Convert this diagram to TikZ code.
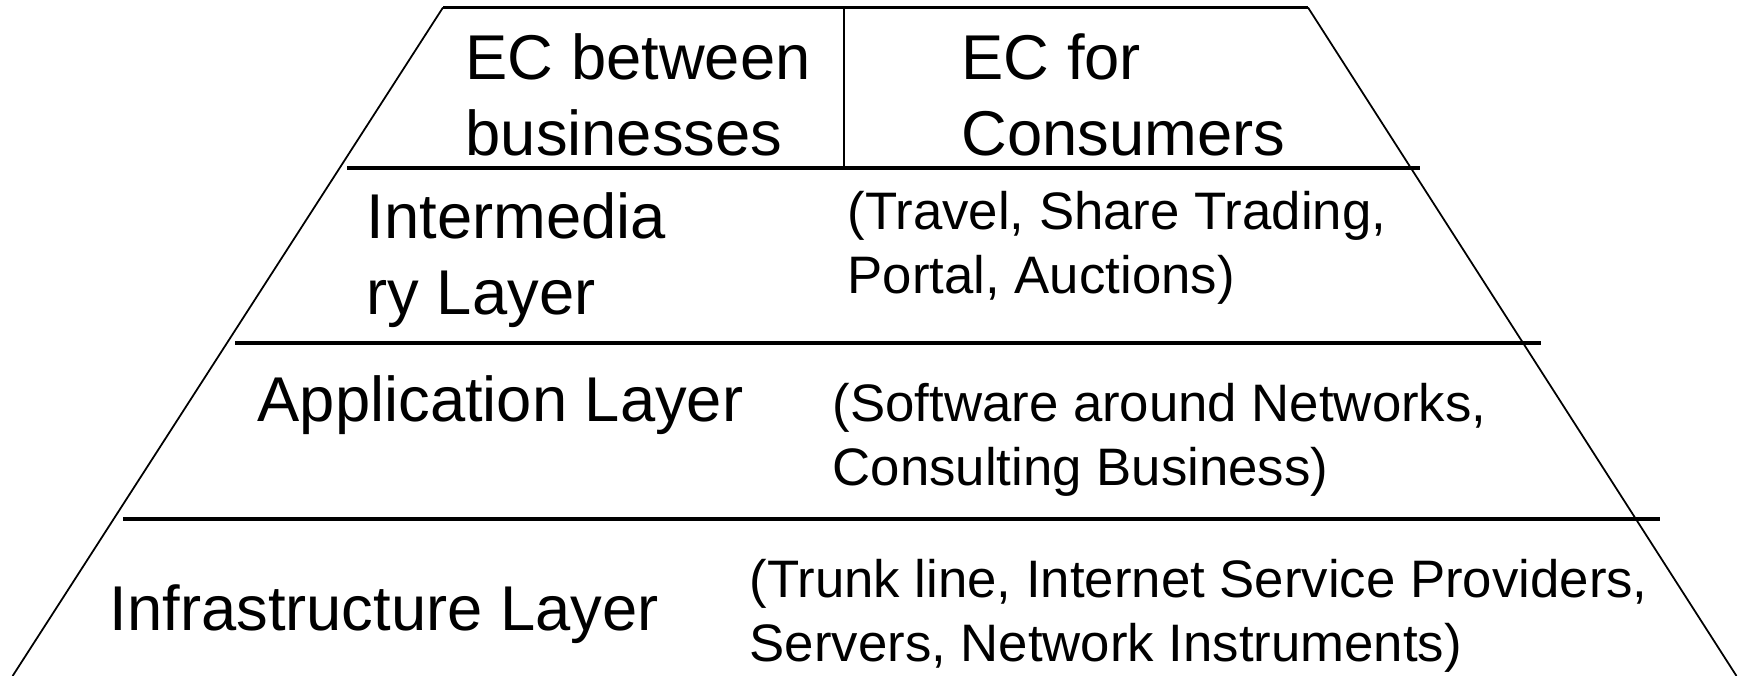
\documentclass[tikz,border=0pt]{standalone}
\usepackage{fontspec}
\setmainfont{Liberation Sans}

\begin{document}
\begin{tikzpicture}[
    x=0.01cm, y=-0.01cm,
    side/.style={line width=0.5pt},
    rule/.style={line width=0.9pt},
    layer/.style={anchor=base west, inner sep=0pt, align=left, font=\fontsize{18}{21.8}\selectfont},
    detail/.style={anchor=base west, inner sep=0pt, align=left, font=\fontsize{15}{18.2}\selectfont}
  ]
  \useasboundingbox (0,0) rectangle (1744,676);

  % Pyramid outline
  \coordinate (topL) at (443,7.5);
  \coordinate (topR) at (1308,7.5);
  \coordinate (botL) at (12.6,676);
  \coordinate (botR) at (1736.5,676);
  \draw[side] (botL) -- (topL);
  \draw[side] (topR) -- (botR);
  \draw[rule] (topL) -- (topR);

  % Layer boundaries
  \foreach \y/\a/\b [count=\i] in {168/347/1420, 343/235/1541, 519/123/1660} {
    \coordinate (cut\i W) at (\a,\y);
    \coordinate (cut\i E) at (\b,\y);
    \draw[rule] (cut\i W) -- (cut\i E);
  }

  % Split of the top layer
  \coordinate (splitT) at (844,7.5);
  \coordinate (splitB) at (844,168);
  \draw[side] (splitT) -- (splitB);

  % Layer names (placed at the baseline of their last line)
  \node[layer] (b2b) at (465,156) {EC between\\businesses};
  \node[layer] (b2c) at (961,156) {EC for\\Consumers};
  \node[layer] (inter) at (366,315) {Intermedia\\ry Layer};
  \node[layer] (app) at (257,422) {Application Layer};
  \node[layer] (infra) at (109,630) {Infrastructure Layer};

  % Examples for each layer
  \node[detail] (interEx) at (847,294) {(Travel, Share Trading,\\Portal, Auctions)};
  \node[detail] (appEx) at (832,486) {(Software around Networks,\\Consulting Business)};
  \node[detail] (infraEx) at (749,662) {(Trunk line, Internet Service Providers,\\Servers, Network Instruments)};
\end{tikzpicture}
\end{document}
